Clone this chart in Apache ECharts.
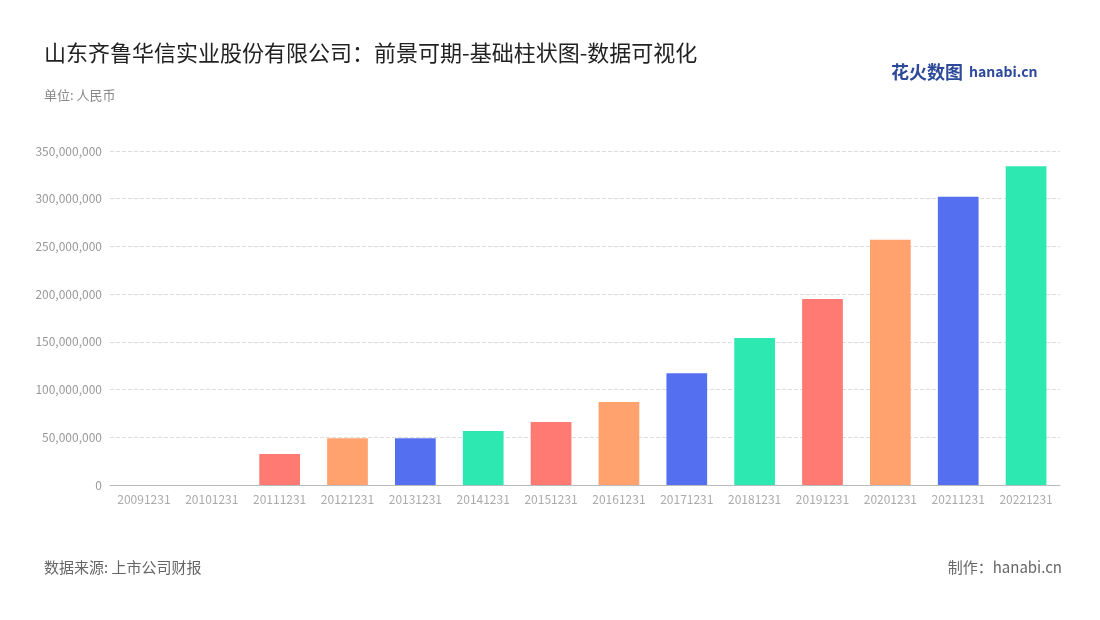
<!DOCTYPE html>
<html><head><meta charset="utf-8">
<script src="https://cdn.jsdelivr.net/npm/echarts@6/dist/echarts.min.js"></script>
<style>body{margin:0;background:#fff}#main{width:1100px;height:620px}</style>
</head><body><div id="main"></div>
<script>
var categories = ['20091231','20101231','20111231','20121231','20131231','20141231','20151231','20161231','20171231','20181231','20191231','20201231','20211231','20221231'];
var values = [0, 0, 32500000, 49000000, 49000000, 56700000, 66000000, 87000000, 117000000, 154000000, 195000000, 257000000, 302000000, 334000000];
var palette = ['#5470f0', '#2de8b0', '#ff7a72', '#ffa26e'];

var chart = echarts.init(document.getElementById('main'));
var font = '"Noto Sans CJK SC", "Noto Sans", sans-serif';
chart.setOption({
	textStyle: { fontFamily: font },
	title: [
		{ text: '山东齐鲁华信实业股份有限公司：前景可期-基础柱状图-数据可视化', left: 39, top: 37, textStyle: { fontSize: 22, fontWeight: 'normal', color: '#222', fontFamily: font } },
		{ text: '单位: 人民币', left: 39, top: 84, textStyle: { fontSize: 13, fontWeight: 'normal', color: '#888', fontFamily: font } },
		{ text: '数据来源: 上市公司财报', left: 39, top: 555, textStyle: { fontSize: 15, fontWeight: 'normal', color: '#666', fontFamily: font } },
		{ text: '制作：hanabi.cn', right: 33, top: 555, textStyle: { fontSize: 15, fontWeight: 'normal', color: '#666', fontFamily: font } },
		{ text: '花火数图', left: 886, top: 58, textStyle: { fontSize: 18, fontWeight: 'bold', color: '#2d4a9a', fontFamily: font } },
		{ text: 'hanabi.cn', left: 964, top: 60, textStyle: { fontSize: 14, fontWeight: 'bold', color: '#2d4a9a', fontFamily: font } }
	],
	grid: { left: 110, right: 40, top: 151, bottom: 135 },
	xAxis: {
		type: 'category', data: categories,
		axisLine: { lineStyle: { color: '#bbb' } },
		axisTick: { show: false },
		axisLabel: { color: '#aaa', fontSize: 12, interval: 0 }
	},
	yAxis: {
		type: 'value', min: 0, max: 350000000, interval: 50000000,
		axisLabel: { color: '#999', fontSize: 12, formatter: function (v) { return v.toLocaleString('en-US'); } },
		splitLine: { lineStyle: { type: 'dashed', color: '#ddd' } },
		axisLine: { show: false }, axisTick: { show: false }
	},
	series: [{
		type: 'bar', barWidth: '60%',
		data: values.map(function (v, i) { return { value: v, itemStyle: { color: palette[i % 4] } }; })
	}]
});
</script></body></html>
